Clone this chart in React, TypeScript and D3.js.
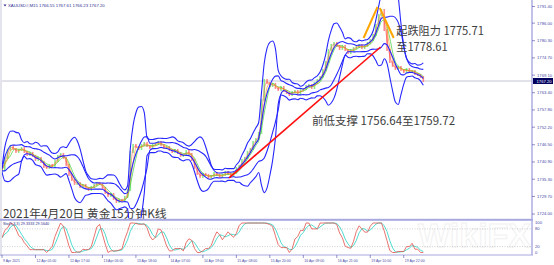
import React from "react";
import * as d3 from "d3";

// Hourly closes (XAUUSD, 9 Apr - 20 Apr 2021)
const closes: number[] = [
  1738.32, 1742.21, 1744.81, 1746.11, 1745.13, 1744.16, 1744.81, 1745.46, 1744.16, 1743.19,
  1743.84, 1742.86, 1741.56, 1742.21, 1740.91, 1739.29, 1738.96, 1739.94, 1739.61, 1741.24,
  1742.86, 1743.51, 1742.21, 1739.94, 1736.69, 1735.07, 1733.77, 1734.09, 1732.80, 1733.45,
  1732.47, 1731.82, 1732.80, 1733.45, 1734.09, 1733.77, 1732.47, 1730.85, 1729.87, 1730.52,
  1728.90, 1727.93, 1728.58, 1728.25, 1729.55, 1731.82, 1744.16, 1746.43, 1745.78, 1745.13,
  1746.43, 1747.08, 1746.11, 1745.46, 1746.43, 1746.76, 1747.41, 1746.43, 1745.46, 1745.78,
  1744.81, 1744.16, 1744.81, 1743.84, 1742.86, 1743.19, 1744.48, 1743.51, 1741.56, 1738.96,
  1737.02, 1736.04, 1737.02, 1736.69, 1735.72, 1736.37, 1737.34, 1736.69, 1736.04, 1736.69,
  1737.67, 1737.02, 1736.37, 1737.34, 1738.96, 1739.61, 1741.56, 1742.21, 1744.16, 1745.13,
  1747.41, 1748.38, 1750.33, 1761.04, 1767.54, 1766.56, 1765.59, 1766.24, 1764.94, 1764.29,
  1765.26, 1763.96, 1763.32, 1762.67, 1763.64, 1763.96, 1762.99, 1764.29, 1764.61, 1765.59,
  1765.91, 1764.94, 1766.56, 1767.54, 1768.51, 1770.78, 1773.38, 1777.28, 1778.90, 1779.55,
  1778.58, 1777.60, 1778.58, 1777.28, 1776.30, 1777.28, 1777.93, 1778.25, 1778.90, 1777.93,
  1778.58, 1779.55, 1780.52, 1782.15, 1785.39, 1788.64, 1790.26, 1783.77, 1777.28, 1773.38,
  1772.08, 1771.11, 1771.76, 1770.78, 1770.13, 1771.11, 1770.13, 1770.46, 1769.48, 1769.16,
  1768.51, 1767.20,
];

const priceTicks = [1791.4, 1786.0, 1780.3, 1774.7, 1769.1, 1763.4, 1757.8, 1752.2, 1746.5, 1740.9, 1735.3, 1729.7, 1724.0];
const timeTickIndex = [0, 12, 24, 36, 48, 60, 72, 84, 96, 108, 120, 132, 144];
const timeTickLabels = [
  "9 Apr 2021", "12 Apr 05:00", "12 Apr 17:00", "13 Apr 06:00", "13 Apr 18:00", "14 Apr 07:00",
  "14 Apr 19:00", "15 Apr 08:00", "15 Apr 20:00", "16 Apr 09:00", "16 Apr 21:00", "19 Apr 10:00", "19 Apr 22:00",
];
const stochLevels = [100, 80, 20, 0];
const headerText = "XAUUSD#,M15  1766.55 1767.61 1766.23 1767.20";
const stochHeader = "Sto(5,3,3) 29.3333 29.5640";
const lastPrice = 1767.2;
const supportLine: [number, number][] = [[81.4, 1735.72], [135.7, 1778.25]];
const resistLeft: [number, number][] = [[129.6, 1781.17], [134.6, 1791.3]];
const resistRight: [number, number][] = [[135.4, 1790.9], [140.4, 1781.17]];
const resistText = ["起跌阻力 1775.71", "至1778.61"];
const supportText = "前低支撑 1756.64至1759.72";
const titleText = "2021年4月20日 黄金15分钟K线";

function rolling(arr: number[], p: number, fn: (a: number[]) => number) {
  return arr.map((_, i) => fn(arr.slice(Math.max(0, i - p + 1), i + 1)));
}
const meanOf = (a: number[]) => d3.mean(a) as number;
const sdOf = (a: number[]) => {
  const m = d3.mean(a) as number;
  return Math.sqrt(d3.mean(a, (v) => (v - m) ** 2) as number);
};

export default function App() {
  const n = closes.length;
  const x = d3.scaleLinear().domain([0, n - 1]).range([2, 2 + (n - 1) * 2.79]);
  const y = d3.scaleLinear().domain([1724.0, 1791.4]).range([214, 6.5]);
  const ys = d3.scaleLinear().domain([0, 100]).range([252.5, 223]);

  const mid = rolling(closes, 7, meanOf);
  const sd = rolling(closes, 7, sdOf);
  const sdLong = rolling(closes, 8, sdOf);
  const midLong = rolling(closes, 8, meanOf);
  const ma2 = rolling(closes, 2, meanOf);
  const ma3 = rolling(closes, 3, meanOf);
  const ma4 = rolling(closes, 4, meanOf);

  const rawK = closes.map((c, i) => {
    const w = closes.slice(Math.max(0, i - 4), i + 1);
    const hi = d3.max(w) as number, lo = d3.min(w) as number;
    return hi === lo ? 50 : ((c - lo) / (hi - lo)) * 100;
  });
  const kLine = rolling(rawK, 3, meanOf);
  const dLine = rolling(kLine, 3, meanOf);

  const line = d3.line<number>().x((_, i) => x(i)).y((v) => y(v)).curve(d3.curveMonotoneX);
  const sline = d3.line<number>().x((_, i) => x(i)).y((v) => ys(v));
  const seg = d3.line<[number, number]>().x((d) => x(d[0])).y((d) => y(d[1]));

  const upper = mid.map((m, i) => m + 2.5 * sd[i] + 0.6);
  const lower = mid.map((m, i) => m - 2.5 * sd[i] - 0.6);
  const innerUp = midLong.map((m, i) => m + 1.0 * sdLong[i] + 0.3);
  const innerLo = midLong.map((m, i) => m - 1.0 * sdLong[i] - 0.3);

  const axisColor = "#4a4aa8";
  const frame = "#a8a8e0";
  const cjk = "'Noto Sans CJK SC', 'Noto Sans', sans-serif";
  const small = "'Liberation Sans', Arial, sans-serif";

  return (
    <svg width={554} height={265} style={{ position: "absolute", left: 0, top: 0, background: "#fff" }}>
      <defs>
        <clipPath id="mainClip"><rect x={2} y={0} width={530} height={218.5} /></clipPath>
        <clipPath id="stochClip"><rect x={2} y={221} width={530} height={33} /></clipPath>
      </defs>
      <rect x={0} y={0} width={554} height={265} fill="#fff" />
      <line x1={1} y1={0} x2={1} y2={256} stroke="#c8c8d8" strokeWidth={1} />

      {/* watermark */}
      <text x={418} y={247} fontFamily={small} fontWeight="bold" fontSize={34} fill="none" stroke="#f1f1f1" strokeWidth={1}>WikiFX</text>

      {/* current price line */}
      <line x1={2} x2={532} y1={y(lastPrice)} y2={y(lastPrice)} stroke="#c4c4d4" strokeWidth={1} />

      <text x={3} y={217.5} fontFamily={cjk} fontSize={11.8} fill="#3c3c3c">{titleText}</text>

      <g clipPath="url(#mainClip)">
        {closes.map((c, i) => {
          const o = i === 0 ? c : closes[i - 1];
          const top = y(Math.max(o, c)) - 1;
          const h = Math.max(3, Math.abs(y(o) - y(c)) + 2);
          return <rect key={i} x={x(i) - 0.8} y={top} width={1.6} height={h} fill={c >= o ? "#6ee66e" : "#ff6f6f"} opacity={0.8} />;
        })}
        <path d={line(ma4) || ""} fill="none" stroke="#33cc33" strokeWidth={0.8} opacity={0.85} />
        <path d={line(ma2) || ""} fill="none" stroke="#ff4040" strokeWidth={0.7} opacity={0.7} />
        <path d={line(ma3) || ""} fill="none" stroke="#ffa020" strokeWidth={0.8} opacity={0.85} />
        <path d={line(upper) || ""} fill="none" stroke="#2626ff" strokeWidth={1.1} />
        <path d={line(lower) || ""} fill="none" stroke="#2626ff" strokeWidth={1.1} />
        <path d={line(innerUp) || ""} fill="none" stroke="#2626ff" strokeWidth={1.1} />
        <path d={line(innerLo) || ""} fill="none" stroke="#2626ff" strokeWidth={1.1} />
        <path d={seg(supportLine) || ""} fill="none" stroke="#ff1010" strokeWidth={1.6} />
        <path d={seg(resistLeft) || ""} fill="none" stroke="#ffa500" strokeWidth={2} />
        <path d={seg(resistRight) || ""} fill="none" stroke="#ffa500" strokeWidth={2} />
      </g>

      <text x={x(141.3)} y={35} fontFamily={cjk} fontSize={11.2} fill="#404040">{resistText[0]}</text>
      <text x={x(141.3)} y={50.5} fontFamily={cjk} fontSize={11.2} fill="#404040">{resistText[1]}</text>
      <text x={x(111.1)} y={125} fontFamily={cjk} fontSize={11.5} fill="#404040">{supportText}</text>

      {/* header */}
      <path d="M3.5,4.5 L6.5,4.5 L5,6.5 Z" fill="#303090" />
      <text x={8} y={7} fontFamily={small} fontSize={4.3} fill="#303090">{headerText}</text>

      {/* stochastic pane */}
      <rect x={0} y={218.8} width={533} height={2} fill={frame} />
      {[80, 20].map((lv) => (
        <line key={lv} x1={2} x2={532} y1={ys(lv)} y2={ys(lv)} stroke="#b0b0b0" strokeWidth={0.6} strokeDasharray="1,1.5" />
      ))}
      <g clipPath="url(#stochClip)">
        <path d={sline(dLine) || ""} fill="none" stroke="#3cd6c8" strokeWidth={0.9} />
        <path d={sline(kLine) || ""} fill="none" stroke="#e2504a" strokeWidth={0.8} />
      </g>
      <text x={3} y={225} fontFamily={small} fontSize={3.8} fill="#303090">{stochHeader}</text>
      <line x1={0} x2={533} y1={255} y2={255} stroke={frame} strokeWidth={1.2} />

      {/* right axis */}
      <line x1={532} x2={532} y1={0} y2={255} stroke={frame} strokeWidth={1.4} />
      {priceTicks.map((t) => (
        <g key={t}>
          <line x1={532} x2={535} y1={y(t)} y2={y(t)} stroke={axisColor} strokeWidth={0.6} />
          <text x={537} y={y(t) + 1.4} fontFamily={small} fontSize={4.2} fill={axisColor}>{t.toFixed(2)}</text>
        </g>
      ))}
      <rect x={533} y={y(lastPrice) - 3} width={20} height={6} fill="#00005e" />
      <text x={536.5} y={y(lastPrice) + 1.5} fontFamily={small} fontSize={4.2} fill="#fff">{lastPrice.toFixed(2)}</text>
      {stochLevels.map((lv) => (
        <text key={lv} x={535} y={ys(lv) + 1.4} fontFamily={small} fontSize={4.2} fill={axisColor}>{lv}</text>
      ))}

      {/* time axis */}
      {timeTickIndex.map((ti, k) => (
        <g key={ti}>
          <line x1={x(ti)} x2={x(ti)} y1={255} y2={258} stroke={axisColor} strokeWidth={0.6} />
          <text x={x(ti) + 1} y={261.5} fontFamily={small} fontSize={3.5} fill={axisColor}>{timeTickLabels[k]}</text>
        </g>
      ))}
    </svg>
  );
}
